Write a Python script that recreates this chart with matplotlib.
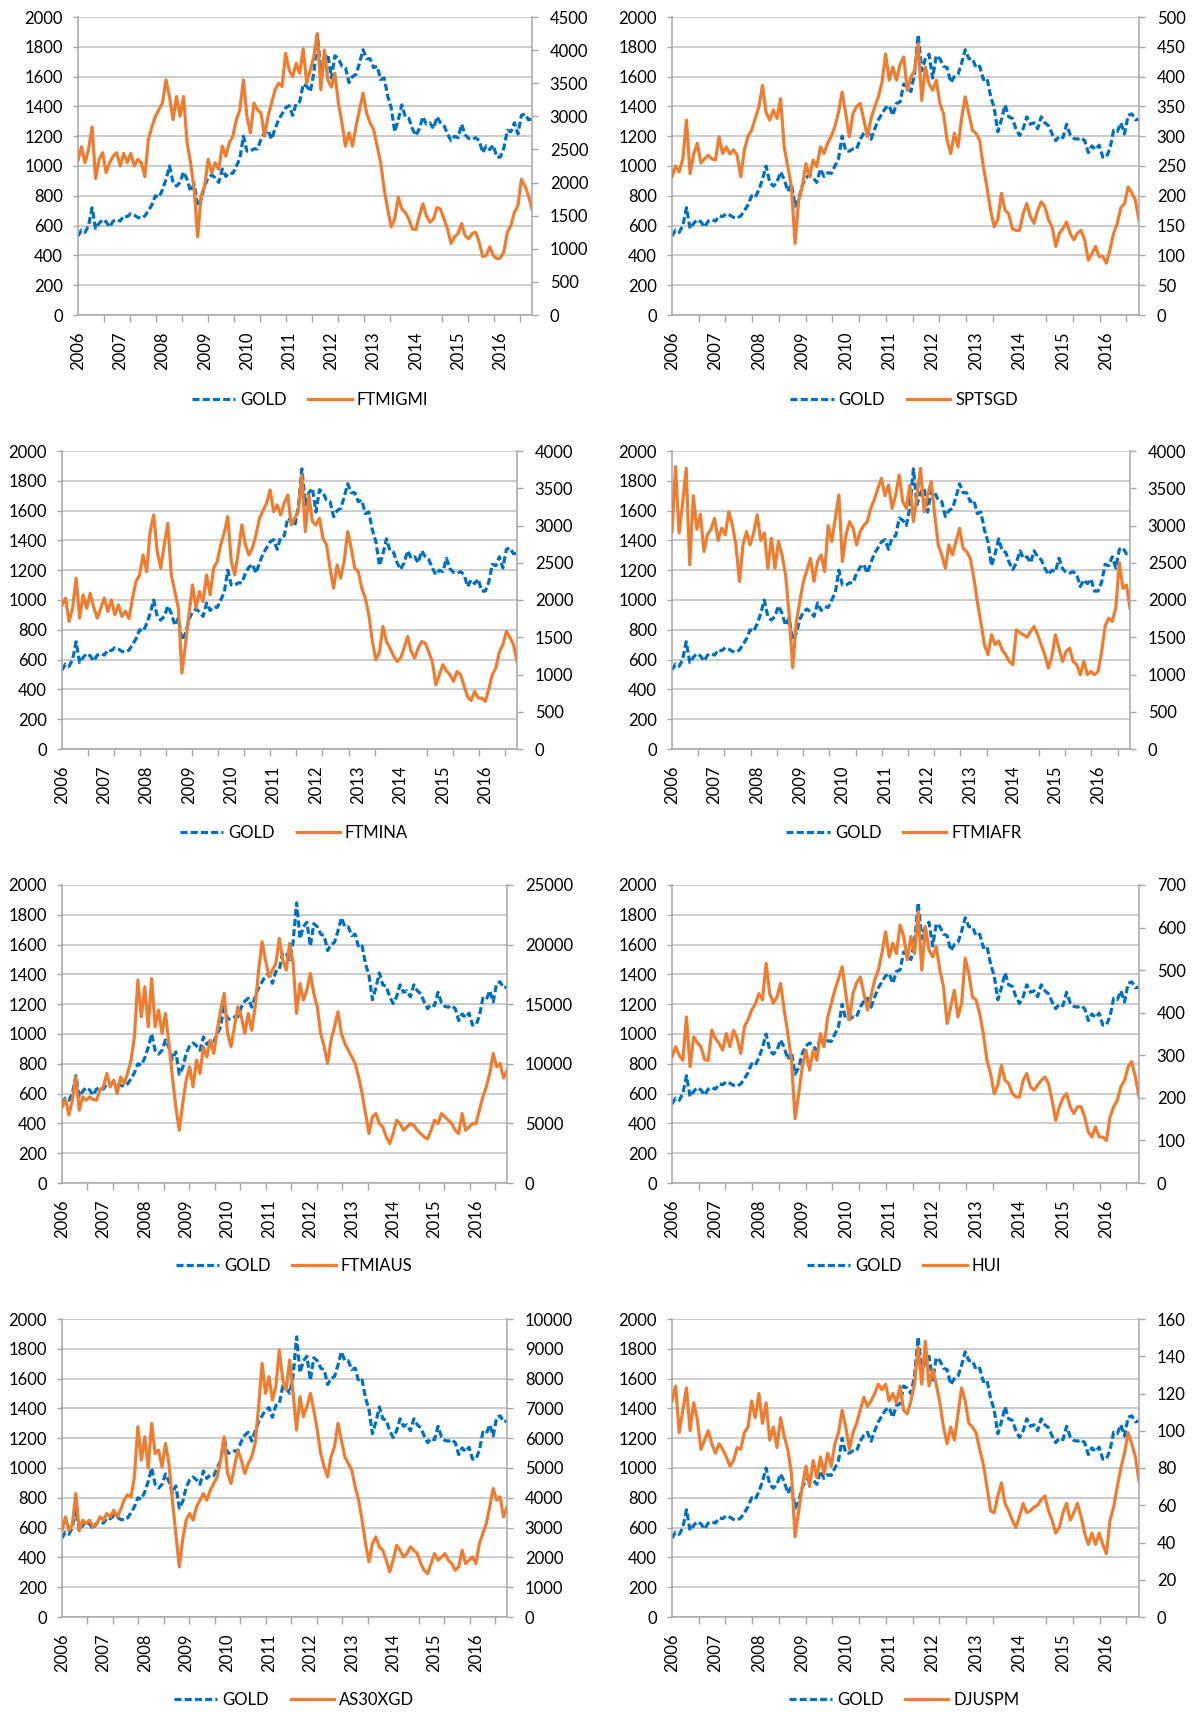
import numpy as np
import matplotlib
matplotlib.use('Agg')
import matplotlib.pyplot as plt
from matplotlib.ticker import MultipleLocator, FixedLocator, NullFormatter
from matplotlib.lines import Line2D

# Calibri is not available, Lato is the closest look
plt.rcParams['font.family'] = ['Lato', 'DejaVu Sans']
plt.rcParams['font.size'] = 12

W, H = 1192, 1712
BLUE = '#0070C0'
ORANGE = '#ED7D31'
GRID = '#BFBFBF'
AXIS = '#A6A6A6'
LW = 2.3

# monthly readings, Jan 2006 .. Oct 2016
gold = [530, 570, 555, 600, 720, 580, 615, 640, 625, 590, 630, 640,
        630, 665, 660, 680, 670, 655, 650, 665, 700, 740, 800, 790,
        840, 910, 1000, 890, 865, 890, 960, 910, 830, 880, 730, 775,
        870, 920, 940, 920, 890, 980, 930, 955, 950, 1000, 1050, 1200,
        1100, 1100, 1115, 1115, 1180, 1220, 1240, 1180, 1250, 1310, 1350, 1390,
        1405, 1340, 1420, 1430, 1550, 1535, 1500, 1620, 1880, 1640, 1720, 1750,
        1590, 1740, 1720, 1670, 1660, 1560, 1600, 1615, 1690, 1780, 1720, 1720,
        1660, 1670, 1580, 1590, 1470, 1390, 1230, 1310, 1410, 1330, 1320, 1250,
        1205, 1250, 1330, 1280, 1290, 1250, 1330, 1290, 1270, 1215, 1170, 1200,
        1190, 1280, 1210, 1185, 1180, 1190, 1170, 1090, 1135, 1110, 1140, 1060,
        1060, 1120, 1240, 1230, 1290, 1215, 1340, 1350, 1310, 1315]

ftmigmi = [2340, 2540, 2300, 2500, 2840, 2060, 2350, 2450, 2150, 2300, 2400, 2450,
           2250, 2440, 2300, 2440, 2250, 2350, 2300, 2090, 2650, 2840, 3000, 3100,
           3200, 3550, 3300, 2950, 3300, 3000, 3300, 2600, 2300, 1900, 1180, 1800,
           1950, 2350, 2150, 2300, 2200, 2550, 2400, 2600, 2700, 2950, 3100, 3550,
           3000, 2750, 3200, 3100, 3050, 2700, 3000, 3200, 3400, 3500, 3450, 3950,
           3700, 3600, 3800, 3650, 4020, 3500, 3700, 3900, 4250, 3400, 4000, 3550,
           3440, 3650, 3200, 2900, 2550, 2750, 2550, 2850, 3100, 3350, 3050, 2900,
           2800, 2550, 2300, 1900, 1600, 1330, 1450, 1780, 1600, 1550, 1450, 1300,
           1290, 1500, 1680, 1500, 1400, 1450, 1620, 1600, 1450, 1300, 1080, 1180,
           1230, 1380, 1200, 1150, 1230, 1250, 1100, 880, 900, 1030, 900, 850,
           860, 950, 1250, 1350, 1550, 1650, 2050, 1950, 1800, 1600]

sptsgd = [232, 250, 240, 262, 327, 237, 270, 288, 255, 262, 268, 262,
          260, 299, 271, 282, 270, 277, 268, 232, 277, 300, 310, 330,
          349, 385, 340, 327, 344, 330, 363, 282, 249, 215, 120, 193,
          215, 254, 232, 260, 249, 282, 271, 288, 300, 316, 340, 374,
          338, 299, 338, 350, 355, 327, 299, 330, 349, 366, 390, 438,
          394, 416, 394, 420, 433, 377, 399, 410, 455, 360, 416, 388,
          377, 394, 355, 338, 293, 271, 305, 282, 330, 366, 338, 310,
          305, 293, 249, 215, 176, 148, 160, 204, 176, 170, 145, 142,
          142, 170, 187, 165, 154, 175, 190, 182, 160, 148, 115, 137,
          145, 156, 137, 126, 137, 142, 126, 92, 103, 115, 98, 98,
          87, 110, 137, 154, 180, 187, 215, 205, 193, 159]

ftmina = [1935, 2025, 1712, 1890, 2293, 1756, 2069, 1890, 2091, 1900, 1756, 1890,
          2025, 1846, 2002, 1801, 1935, 1779, 1850, 1750, 2025, 2248, 2337, 2605,
          2382, 2918, 3142, 2650, 2427, 2740, 3030, 2337, 2114, 1890, 1020, 1400,
          1801, 2203, 1890, 2114, 1980, 2337, 2069, 2427, 2516, 2740, 2900, 3119,
          2516, 2337, 2650, 3008, 2740, 2605, 2700, 2874, 3097, 3200, 3300, 3477,
          3186, 3276, 3142, 3300, 3410, 3008, 3100, 3186, 3678, 2918, 3410, 3052,
          3008, 3097, 2829, 2740, 2427, 2158, 2471, 2293, 2516, 2918, 2695, 2427,
          2382, 2158, 2025, 1801, 1443, 1198, 1300, 1645, 1443, 1354, 1250, 1175,
          1220, 1354, 1510, 1309, 1220, 1354, 1443, 1421, 1300, 1175, 862, 997,
          1131, 1050, 997, 907, 1041, 997, 850, 700, 650, 773, 684, 684,
          639, 800, 997, 1086, 1300, 1399, 1578, 1500, 1400, 1175]

ftmiafr = [2918, 3790, 2900, 3300, 3767, 2471, 3400, 2950, 3150, 2650, 2880, 2950,
           3097, 2800, 2963, 2874, 3186, 3008, 2740, 2248, 2740, 2918, 2740, 2900,
           3142, 2800, 2900, 2427, 2829, 2427, 2784, 2600, 2337, 1801, 1090, 1700,
           1980, 2248, 2400, 2560, 2248, 2516, 2605, 2382, 3000, 2784, 3097, 3410,
           2516, 2874, 3052, 2963, 2740, 2918, 3000, 3052, 3231, 3350, 3499, 3633,
           3400, 3544, 3231, 3410, 3678, 3320, 3231, 3544, 3052, 3400, 3767, 3186,
           3410, 3589, 3142, 2740, 2600, 2427, 2740, 2605, 2784, 2963, 2695, 2650,
           2561, 2300, 1980, 1700, 1400, 1265, 1533, 1400, 1450, 1330, 1265, 1175,
           1131, 1600, 1560, 1533, 1500, 1578, 1645, 1533, 1400, 1265, 1086, 1240,
           1533, 1354, 1175, 1309, 1354, 1175, 1131, 997, 1175, 1000, 1041, 997,
           1041, 1300, 1650, 1756, 1712, 1890, 2500, 2158, 2200, 1890]

ftmiaus = [6384, 7000, 5700, 6944, 8904, 6104, 7224, 6944, 7224, 7000, 6944, 7784,
           8064, 9184, 8064, 8624, 7504, 8904, 8344, 9184, 10304, 12264, 17024, 13944,
           16464, 13104, 17164, 13104, 14504, 12544, 14224, 11704, 8904, 6384, 4424, 6664,
           8624, 9744, 8064, 10304, 9184, 11424, 10584, 11984, 10864, 12824, 14504, 15904,
           12544, 11424, 13104, 14784, 13944, 12544, 14224, 12824, 14784, 17864, 20244, 18704,
           17304, 17864, 18424, 20524, 18704, 17864, 20104, 18424, 14224, 16744, 15344, 16184,
           17584, 15904, 14784, 12544, 11424, 10024, 11984, 13104, 14364, 12544, 11704, 11144,
           10584, 10024, 8904, 7504, 5824, 4144, 5544, 5824, 4984, 4704, 3864, 3304,
           4144, 5264, 4984, 4424, 4704, 4984, 4844, 4424, 4144, 3864, 3700, 4424,
           5264, 4984, 5824, 5544, 5264, 4984, 4424, 4144, 5824, 4424, 4704, 4984,
           4984, 6104, 7224, 8064, 9184, 10864, 9744, 10024, 8800, 9464]

hui = [296, 320, 300, 288, 390, 273, 343, 330, 320, 290, 288, 359,
       340, 328, 312, 351, 320, 359, 340, 304, 367, 383, 406, 420,
       445, 430, 516, 445, 422, 437, 469, 406, 351, 288, 151, 210,
       273, 312, 265, 312, 288, 351, 320, 390, 422, 453, 480, 508,
       445, 383, 445, 470, 484, 445, 406, 440, 477, 500, 540, 590,
       531, 563, 539, 606, 580, 524, 579, 539, 637, 500, 602, 547,
       531, 555, 500, 461, 375, 414, 453, 390, 422, 528, 492, 437,
       430, 398, 351, 288, 257, 210, 230, 277, 241, 234, 210, 202,
       202, 241, 257, 226, 218, 230, 241, 249, 234, 194, 147, 179,
       200, 210, 179, 163, 179, 179, 155, 120, 108, 132, 108, 108,
       100, 155, 179, 194, 226, 241, 273, 285, 249, 202]

as30xgd = [2912, 3360, 2900, 3100, 4144, 2900, 3248, 3136, 3248, 3024, 3100, 3360,
           3248, 3472, 3360, 3584, 3360, 3600, 3920, 4100, 4032, 4704, 6384, 5264,
           6048, 5000, 6496, 5488, 5600, 5040, 5824, 5152, 3920, 2800, 1680, 2600,
           3248, 3472, 3248, 3696, 3920, 4144, 3920, 4256, 4480, 4704, 5264, 6048,
           4816, 4480, 5040, 5600, 5264, 4816, 5152, 5376, 5824, 7056, 8512, 7504,
           8064, 7280, 7728, 8960, 7952, 7616, 8624, 7504, 6272, 7392, 6720, 7056,
           7504, 6944, 6272, 5488, 5040, 4704, 5376, 5712, 6496, 5936, 5376, 5152,
           4928, 4368, 3920, 3248, 2464, 1848, 2464, 2688, 2352, 2240, 1904, 1512,
           1904, 2408, 2240, 2016, 2128, 2352, 2240, 2128, 1792, 1568, 1456, 1792,
           2128, 1904, 2016, 2128, 1904, 1792, 1568, 1680, 2240, 1792, 1904, 2016,
           1792, 2464, 2800, 3136, 3696, 4312, 3920, 4032, 3360, 3696]

djuspm = [116, 124, 99, 111, 123, 100, 115, 106, 90, 95, 100, 93,
          88, 93, 90, 86, 81, 84, 91, 90, 99, 102, 116, 107,
          120, 104, 115, 95, 102, 91, 107, 97, 90, 77, 43, 57,
          70, 81, 70, 84, 75, 86, 77, 88, 81, 93, 99, 111,
          102, 90, 99, 104, 111, 118, 113, 116, 120, 125, 122, 125,
          116, 120, 115, 124, 111, 109, 116, 125, 145, 125, 148, 124,
          133, 125, 115, 102, 93, 102, 95, 109, 123, 116, 104, 102,
          99, 90, 82, 70, 57, 56, 65, 72, 61, 57, 52, 48,
          54, 61, 56, 57, 59, 60, 63, 65, 57, 52, 45, 48,
          56, 61, 52, 56, 61, 54, 45, 39, 45, 39, 45, 39,
          34, 52, 59, 70, 80, 88, 99, 93, 86, 73]

years = list(range(2006, 2017))
months = 2006 + np.arange(len(gold)) / 12

# name, series, right-axis max, right-axis step, box in pixels (l, r, t, b), legend centre in pixels
panels = [
    ('FTMIGMI', ftmigmi, 4500, 500, (78, 532, 17, 315), (310, 400)),
    ('SPTSGD', sptsgd, 500, 50, (672, 1139, 17, 315), (904, 400)),
    ('FTMINA', ftmina, 4000, 500, (62, 517, 451, 749), (294, 833)),
    ('FTMIAFR', ftmiafr, 4000, 500, (672, 1130, 451, 749), (904, 833)),
    ('FTMIAUS', ftmiaus, 25000, 5000, (62, 507, 885, 1183), (294, 1266)),
    ('HUI', hui, 700, 100, (672, 1139, 885, 1183), (904, 1266)),
    ('AS30XGD', as30xgd, 10000, 1000, (62, 507, 1319, 1617), (294, 1700)),
    ('DJUSPM', djuspm, 160, 20, (672, 1139, 1319, 1617), (904, 1700)),
]

fig = plt.figure(figsize=(W / 100, H / 100), dpi=100)

for name, vals, ymax, step, (l, r, t, b), (lx, ly) in panels:
    ax = fig.add_axes([l / W, 1 - b / H, (r - l) / W, (b - t) / H])
    ax2 = ax.twinx()

    ax.plot(months, gold, color=BLUE, lw=LW, dashes=(2.2, 1.0))
    ax2.plot(months, vals, color=ORANGE, lw=LW)

    ax.set_xlim(2006, months[-1])
    ax.set_ylim(0, 2000)
    ax2.set_ylim(0, ymax)
    ax.yaxis.set_major_locator(MultipleLocator(200))
    ax2.yaxis.set_major_locator(MultipleLocator(step))

    ax.grid(axis='y', color=GRID, lw=1.1)
    ax.set_axisbelow(True)

    # x axis: year labels with no marks, tick marks every 160 trading days
    ax.xaxis.set_major_locator(FixedLocator(years))
    ax.set_xticklabels([str(y) for y in years], rotation=90)
    ax.xaxis.set_minor_locator(FixedLocator([2006 + k * 160 / 260 for k in range(18)]))
    ax.xaxis.set_minor_formatter(NullFormatter())
    ax.tick_params(axis='x', which='major', length=0, pad=12, labelsize=12)
    ax.tick_params(axis='x', which='minor', length=5, width=1, color=AXIS, direction='out')
    ax.tick_params(axis='y', length=3.8, width=1, color=AXIS, pad=7, labelsize=12)
    ax2.tick_params(axis='y', length=4.3, width=1, color=AXIS, pad=8.5, labelsize=12)

    for s in ['top', 'right']:
        ax.spines[s].set_visible(False)
    for s in ['top', 'left', 'bottom']:
        ax2.spines[s].set_visible(False)
    for sp in [ax.spines['left'], ax.spines['bottom'], ax2.spines['right']]:
        sp.set_color(AXIS)
        sp.set_linewidth(1.1)

    handles = [Line2D([], [], color=BLUE, lw=LW, dashes=(2.2, 1.0)),
               Line2D([], [], color=ORANGE, lw=LW)]
    ax.legend(handles, ['GOLD', name], loc='center', ncol=2, frameon=False,
              bbox_to_anchor=(lx / W, 1 - ly / H), bbox_transform=fig.transFigure,
              handlelength=2.6, handletextpad=0.3, columnspacing=1.3, fontsize=12)

fig.savefig('out.png', dpi=100)
